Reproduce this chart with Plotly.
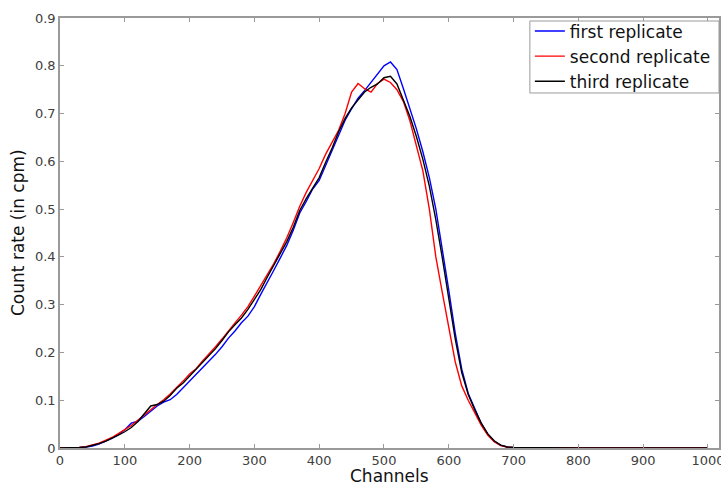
import plotly.graph_objects as go

channels = [0, 10, 20, 30, 40, 50, 60, 70, 80, 90,
            100, 110, 120, 130, 140, 150, 160, 170, 180, 190,
            200, 210, 220, 230, 240, 250, 260, 270, 280, 290,
            300, 310, 320, 330, 340, 350, 360, 370, 380, 390,
            400, 410, 420, 430, 440, 450, 460, 470, 480, 490,
            500, 510, 520, 530, 540, 550, 560, 570, 580, 590,
            600, 610, 620, 630, 640, 650, 660, 670, 680, 690,
            700, 750, 800, 850, 900, 950, 1000]

first_rep = [0, 0, 0, 0.001, 0.002, 0.004, 0.008, 0.014, 0.020, 0.028,
             0.038, 0.052, 0.056, 0.066, 0.078, 0.088, 0.096, 0.101, 0.112, 0.126,
             0.140, 0.152, 0.166, 0.182, 0.196, 0.212, 0.230, 0.245, 0.262, 0.276,
             0.296, 0.322, 0.346, 0.372, 0.398, 0.424, 0.456, 0.492, 0.516, 0.542,
             0.560, 0.592, 0.622, 0.655, 0.686, 0.710, 0.732, 0.748, 0.765, 0.784,
             0.800, 0.808, 0.792, 0.752, 0.712, 0.668, 0.620, 0.566, 0.500, 0.418,
             0.330, 0.240, 0.165, 0.114, 0.082, 0.052, 0.029, 0.014, 0.006, 0.002,
             0.001, 0, 0, 0, 0, 0, 0]

second_rep = [0, 0, 0, 0.001, 0.003, 0.006, 0.010, 0.016, 0.022, 0.030,
              0.038, 0.047, 0.058, 0.070, 0.080, 0.091, 0.101, 0.113, 0.126, 0.140,
              0.155, 0.166, 0.182, 0.196, 0.212, 0.228, 0.246, 0.262, 0.278, 0.296,
              0.318, 0.340, 0.362, 0.386, 0.412, 0.440, 0.472, 0.506, 0.535, 0.560,
              0.585, 0.615, 0.640, 0.665, 0.700, 0.745, 0.763, 0.752, 0.745, 0.763,
              0.772, 0.765, 0.750, 0.725, 0.685, 0.630, 0.580, 0.500, 0.400, 0.325,
              0.250, 0.180, 0.130, 0.100, 0.074, 0.048, 0.027, 0.013, 0.005, 0.002,
              0.001, 0, 0, 0, 0, 0, 0]

third_rep = [0, 0, 0, 0.001, 0.002, 0.005, 0.009, 0.014, 0.020, 0.027,
             0.034, 0.043, 0.055, 0.072, 0.088, 0.091, 0.098, 0.110, 0.125, 0.136,
             0.150, 0.164, 0.178, 0.193, 0.208, 0.225, 0.243, 0.258, 0.272, 0.290,
             0.312, 0.332, 0.358, 0.383, 0.406, 0.432, 0.462, 0.497, 0.522, 0.545,
             0.566, 0.598, 0.628, 0.662, 0.690, 0.712, 0.728, 0.745, 0.755, 0.762,
             0.775, 0.778, 0.762, 0.728, 0.694, 0.652, 0.604, 0.548, 0.478, 0.398,
             0.312, 0.228, 0.158, 0.112, 0.080, 0.052, 0.030, 0.015, 0.006, 0.002,
             0.001, 0, 0, 0, 0, 0, 0]

series_names = ["first replicate", "second replicate", "third replicate"]
series_colors = ["#0000ff", "#ff0000", "#000000"]
x_ticks = [0, 100, 200, 300, 400, 500, 600, 700, 800, 900, 1000]
y_ticks = [0, 0.1, 0.2, 0.3, 0.4, 0.5, 0.6, 0.7, 0.8, 0.9]
x_title = "Channels"
y_title = "Count rate (in cpm)"

FONT = "DejaVu Sans, Liberation Sans, Arial, sans-serif"

fig = go.Figure()
for name, ys, col in zip(series_names, [first_rep, second_rep, third_rep], series_colors):
    fig.add_trace(go.Scatter(x=channels, y=ys, mode="lines", name=name,
                             line=dict(color=col, width=1.4)))

axis_common = dict(showgrid=False, zeroline=False, showline=True, mirror="ticks",
                   linecolor="#9a9a9a", linewidth=1.5, ticks="inside", ticklen=4,
                   tickcolor="#9a9a9a", tickwidth=1, automargin=False,
                   ticklabeloverflow="allow",
                   tickfont=dict(family=FONT, size=13, color="#404040"))

fig.update_xaxes(range=[0, 1017], tickvals=x_ticks,
                 ticktext=[str(v) for v in x_ticks], **axis_common)
fig.update_yaxes(range=[0, 0.9], tickvals=y_ticks,
                 ticktext=["0"] + [f"{v:.1f}" for v in y_ticks[1:]], **axis_common)

fig.add_annotation(text=x_title, xref="paper", yref="paper", x=0.5, y=0,
                   xanchor="center", yanchor="top", yshift=-16, showarrow=False,
                   font=dict(family=FONT, size=17, color="#111"))
fig.add_annotation(text=y_title, xref="paper", yref="paper", x=0, y=0.5,
                   xanchor="center", yanchor="middle", xshift=-42, textangle=-90,
                   showarrow=False, font=dict(family=FONT, size=17, color="#111"))

# legend frame
fig.add_shape(type="rect", xref="paper", yref="paper",
              x0=0.713, x1=1.0, y0=0.8256, y1=0.993,
              line=dict(color="#9a9a9a", width=1), fillcolor="white", layer="above")

fig.update_layout(
    width=721, height=482,
    margin=dict(l=60, r=2, t=18, b=34),
    paper_bgcolor="white", plot_bgcolor="white",
    font=dict(family=FONT),
    showlegend=True,
    legend=dict(x=0.713, xanchor="left", y=1.0105, yanchor="top",
                bgcolor="rgba(0,0,0,0)", borderwidth=0,
                font=dict(family=FONT, size=17, color="#111"),
                tracegroupgap=0, itemwidth=30),
)

fig.write_html("out.html", config={"displayModeBar": False},
               post_script="document.body.style.margin='0px';document.body.style.padding='0px';")
